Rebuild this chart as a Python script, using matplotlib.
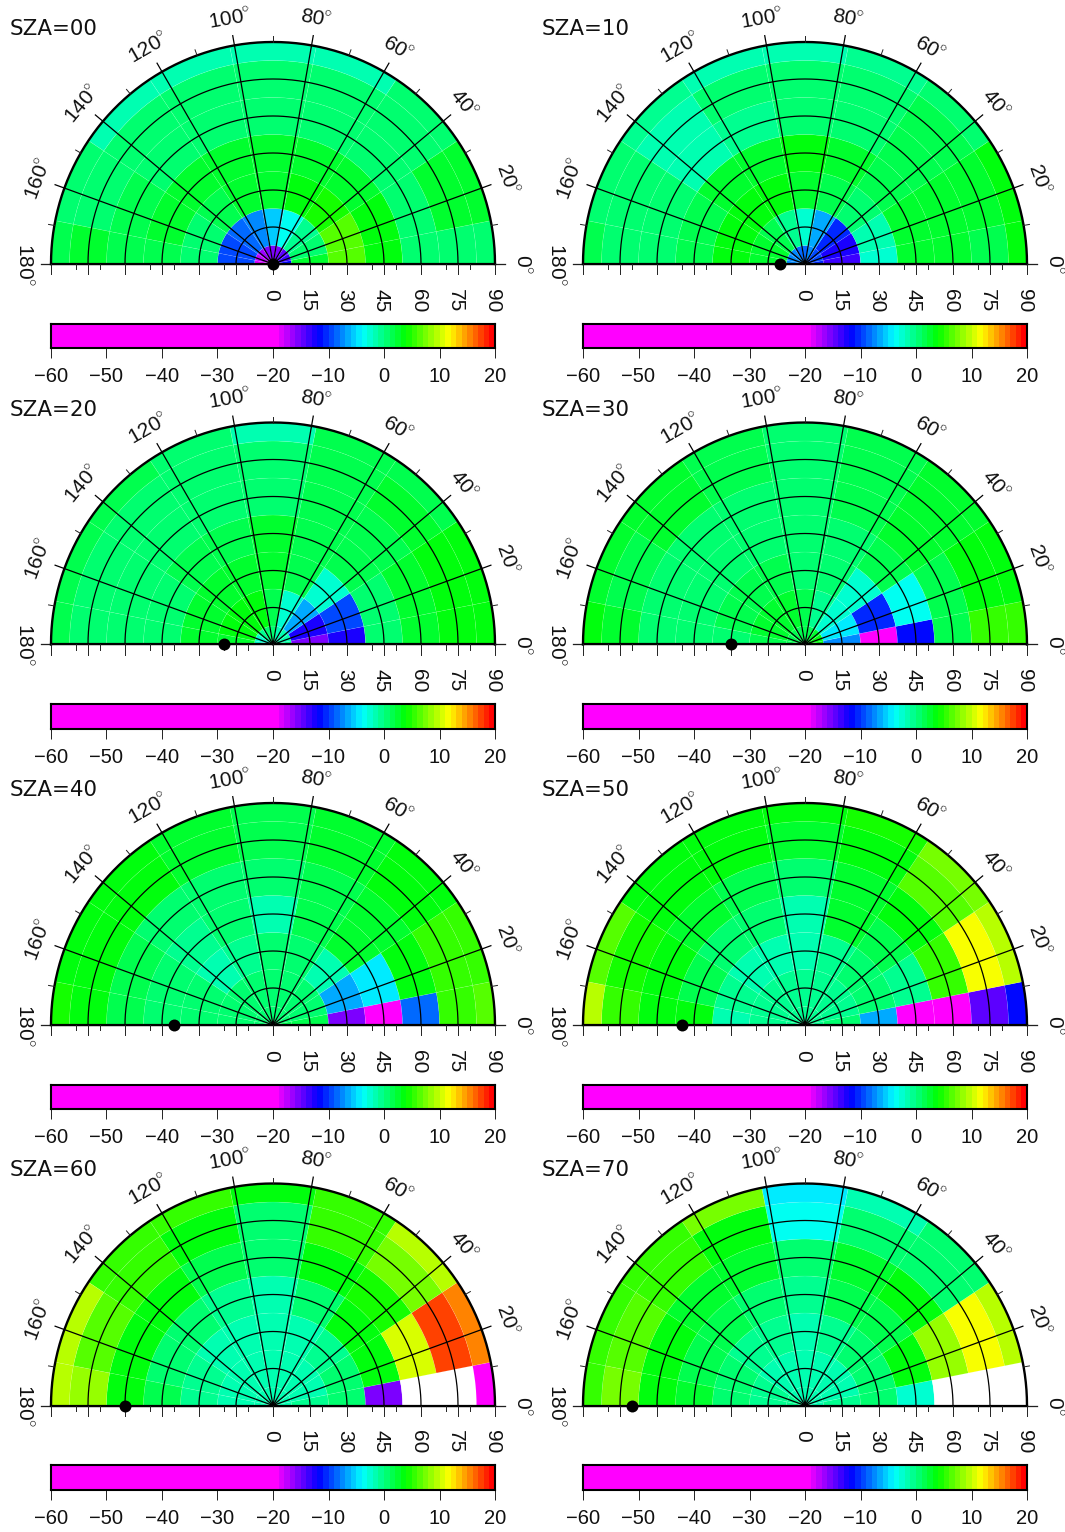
import colorsys
import numpy as np
import matplotlib
matplotlib.use('Agg')
import matplotlib.pyplot as plt
from matplotlib.collections import PatchCollection
from matplotlib.colors import ListedColormap, Normalize
from matplotlib.patches import Wedge

plt.rcParams['font.family'] = ['Liberation Sans', 'DejaVu Sans']
plt.rcParams['mathtext.fontset'] = 'custom'
plt.rcParams['mathtext.rm'] = 'Liberation Sans'

nan = float('nan')

# cell edges, degrees
ring_edges = [0, 7.5, 22.5, 37.5, 52.5, 67.5, 82.5, 90]
azim_edges = [0, 11.25, 33.75, 56.25, 78.75, 101.25, 123.75, 146.25, 168.75, 180]

# one row per ring (inner to outer), one column per azimuth bin (0 to 180)
sza00 = [[-12, -14, -15, -16, -16, -16, -17, -18, -19],
         [2, 0.5, -0.5, -3.5, -6, -8, -9, -9.5, -10],
         [6.5, 6, 4, 3, 2, 2, 1, 0.5, 0],
         [3, 3, 2.5, 2, 2, 2, 2.5, 2.5, 1.5],
         [0.5, 0.5, 0.5, 0, 0, 0, 0.5, 1, 1.5],
         [0, 2, 0, 0, 0, 0, 0, 0.5, 2.5],
         [0, 2.5, 0, -1.5, -1.5, -1.5, -2, 0.5, 1]]
sza10 = [[-11, -10, -10, -8, -9, -9, -8, -8, -8],
         [-14, -12.5, -10.5, -6.5, -3, -0.5, 1.5, 2, 2.5],
         [-3, -2, 0, 1.5, 2.5, 3, 3.5, 3, 3],
         [2.5, 2.5, 1.5, 2.5, 3, 2.5, 2, 1, 1],
         [2, 2, 1, 0, 0, -0.5, -2, 0, 0],
         [1.5, 2, 1.5, 0, 0, 0, -1.5, 0.5, 0.5],
         [3, 3, 0.5, -0.5, -1.5, -1.5, -0.5, 0.5, 1.5]]
sza20 = [[-1, -2, -2, -2, 0, 0, -1, -3, -3],
         [-15.5, -12.5, -7, -3, 1.5, 3, 3.5, 3, 2.5],
         [-13, -9.5, -3, 1, 2, 2, 2.5, 2.5, 2.5],
         [0, 0, 1.5, 1.5, 2, 1.5, 1, 0.5, 0.5],
         [2.5, 2.5, 1.5, 1, 0.5, 0, 0, 0, 0],
         [3, 3, 2, 1.5, 0.5, 0.5, 0.5, 0, 0.5],
         [3, 3, 1, 1, -1.5, 0.5, 1.5, 1, 1.5]]
sza30 = [[3, 3, 2.5, 1, 1, 1.5, 1.5, 1.5, 1.5],
         [-8, -5, -3, -0.5, 1, 2, 2.5, 2, 1.5],
         [-20, -11, -2.5, 0.5, 0.5, 1, 1.5, 1, 0.5],
         [-11.5, -3.5, 1, 0, 0, 0, 0, 0, 0],
         [1.5, 1.5, 2, 1, 0.5, 0.5, 0.5, 0.5, 0.5],
         [5.5, 3.5, 2, 1.5, 0.5, 1, 2, 1, 2],
         [5, 3.5, 2, 1.5, 0.5, 1.5, 2.5, 2.5, 3]]
sza40 = [[1.5, 0.5, 0, 0, 0, 0, 0, 0, 0],
         [1, 0, 0, 0, 0, 0, 0, 0, 0],
         [-16, -6.5, -2, 0.5, 0.5, -0.5, -2, 0, 0],
         [-20, -4.5, 2, 1, -2, 0, -0.5, 0.5, 0],
         [-8.5, 3, 2, 1, 0.5, 0.5, 0.5, 1.5, 1],
         [5, 5, 3.5, 2, 1.5, 2.5, 3, 3, 3.5],
         [6.5, 5, 3.5, 2, 1.5, 2, 3.5, 3.5, 4]]
sza50 = [[-0.5, -0.5, -0.5, -0.5, -0.5, -0.5, -0.5, -0.5, -0.5],
         [0, -0.5, -0.5, -0.5, -0.5, -0.5, -0.5, -0.5, -0.5],
         [-6.5, 0, 0, -0.5, -1.5, -1.5, -1.5, -0.5, -2],
         [-20, -0.5, 1, 2.5, -2, 0, 0.5, 1.5, 3],
         [-20, 5, 3, 2, 0, 1, 2, 3, 3],
         [-15, 11.5, 6.5, 3.5, 2.5, 3, 3, 4.5, 5.5],
         [-12, 9.5, 7, 4, 3, 3.5, 3.5, 6.5, 9.5]]
sza60 = [[-1.5, -1.5, -1.5, -1.5, -1.5, -1.5, -1.5, -1.5, -1.5],
         [-0.5, -1.5, -1.5, -1.5, -2, -1.5, -1.5, -1.5, -1.5],
         [0, 0, -0.5, -1.5, -2, -2, -2, -0.5, -0.5],
         [-15.5, 3, 3, 0, -1.5, -0.5, 0, 0, 1.5],
         [nan, 10.5, 4.5, 3, 0, 1, 3, 3.5, 3.5],
         [nan, 17, 7, 5, 0, 3.5, 5, 6.5, 8],
         [-20, 15, 9, 5.5, 3.5, 5, 5.5, 9.5, 9.5]]
sza70 = [[-1.5, -1.5, -1.5, -1.5, -2, -1.5, -1.5, -0.5, -0.5],
         [-0.5, -1.5, -1.5, -1.5, -2, -1.5, -1.5, -0.5, -0.5],
         [0, 0.5, 0, -0.5, -1.5, -0.5, -0.5, 0, 0],
         [-3, 3, 1, 1, -0.5, 0, 1, 1.5, 2.5],
         [nan, 8.5, 3.5, 2, 0, 2, 2.5, 3, 3.5],
         [nan, 11.5, 0, 0.5, -3.5, 3.5, 5, 6.5, 7.5],
         [nan, 9, 0.5, -2, -4.5, 7.5, 5.5, 5, 5]]

panels = [sza00, sza10, sza20, sza30, sza40, sza50, sza60, sza70]
sza_values = [0, 10, 20, 30, 40, 50, 60, 70]

circle_ticks = [15, 30, 45, 60, 75]
radial_major = [0, 20, 40, 60, 80, 100, 120, 140, 160, 180]
radial_minor = [10, 30, 50, 70, 90, 110, 130, 150, 170]
base_major = [0, 15, 30, 45, 60, 75, 90]
base_minor = [10, 20, 40, 50, 70, 80]
bar_ticks = [-60, -50, -40, -30, -20, -10, 0, 10, 20]

# pixel layout of the original
W, H = 1065, 1532
col_x = [273, 805]
row_y = [264, 644.5, 1025, 1405.5]
RAD = 222
PX = RAD / 90.0  # pixels per degree

# magenta below -20, then 40 rainbow steps
rainbow = [colorsys.hsv_to_rgb((300 - i * 300 / 39.0) / 360.0, 1, 1) for i in range(40)]
cmap = ListedColormap([(1, 0, 1)] * 40 + rainbow)
cmap.set_bad('white')
norm = Normalize(-60, 20)


def draw_panel(cx, cy, cells, sza):
    ax = fig.add_axes([(cx - RAD) / W, 1 - cy / H, 2 * RAD / W, RAD / H])
    ax.set_xlim(-90, 90)
    ax.set_ylim(0, 90)
    ax.axis('off')

    wedges = []
    vals = []
    for i in range(len(ring_edges) - 1):
        for j in range(len(azim_edges) - 1):
            wedges.append(Wedge((0, 0), ring_edges[i + 1], azim_edges[j], azim_edges[j + 1],
                                width=ring_edges[i + 1] - ring_edges[i]))
            vals.append(cells[i][j])
    pc = PatchCollection(wedges, cmap=cmap, norm=norm, edgecolor=(1, 1, 1, 0.2), linewidth=0.3)
    pc.set_array(np.ma.masked_invalid(vals))
    ax.add_collection(pc)

    t = np.radians(np.linspace(0, 180, 361))
    for r in circle_ticks:
        ax.plot(r * np.cos(t), r * np.sin(t), color='k', lw=0.9)
    ax.plot(90 * np.cos(t), 90 * np.sin(t), color='k', lw=1.7, clip_on=False)

    for a in radial_major:
        c, s = np.cos(np.radians(a)), np.sin(np.radians(a))
        ax.plot([0, 94 * c], [0, 94 * s], color='k', lw=0.9, clip_on=False)
        rot = -90 if a == 180 else a - 90
        ax.text(101 * c, 101 * s, '%d$\\!^\\circ$' % a, rotation=rot, rotation_mode='anchor',
                ha='center', va='center', fontsize=15, color='#111111')
    for a in radial_minor:
        c, s = np.cos(np.radians(a)), np.sin(np.radians(a))
        ax.plot([90 * c, 92.4 * c], [90 * s, 92.4 * s], color='#222222', lw=0.7, clip_on=False)

    # baseline and its ticks
    ax.plot([-94, 94], [0, 0], color='#222222', lw=0.7, clip_on=False)
    ax.plot([-90, 90], [0, 0], color='k', lw=1.6, clip_on=False)
    for r in base_major:
        for x in (-r, r):
            ax.plot([x, x], [0, -4.1], color='#222222', lw=0.7, clip_on=False)
    for r in base_minor:
        for x in (-r, r):
            ax.plot([x, x], [0, -2.1], color='#222222', lw=0.7, clip_on=False)
    for r in base_major:
        ax.text(r - 1.1, -10, str(r), rotation=270, rotation_mode='anchor', ha='left', va='center',
                fontsize=15, color='#111111')

    ax.plot([-sza], [0], 'o', color='k', ms=8.6, mew=0, clip_on=False, zorder=5)
    ax.text(-90 - 41 / PX, 235 / PX, 'SZA=%02d' % sza, ha='left', va='center',
            fontsize=15.4, family='DejaVu Sans', color='#111111')

    # colour bar
    cax = fig.add_axes([(cx - RAD) / W, 1 - (cy + 84) / H, 2 * RAD / W, 24.5 / H])
    levels = np.arange(-60, 21)
    cax.pcolormesh(levels, [0, 1], [levels[:-1] + 0.5], cmap=cmap, norm=norm)
    cax.set_yticks([])
    cax.set_xticks(bar_ticks)
    cax.set_xticklabels([str(v).replace('-', '\u2212') for v in bar_ticks], fontsize=14.5, color='#111111')
    cax.tick_params(axis='x', length=7, width=0.7, pad=7, color='#222222')
    for sp in cax.spines.values():
        sp.set_linewidth(1.5)


fig = plt.figure(figsize=(W / 100, H / 100), dpi=100)
for n in range(len(panels)):
    draw_panel(col_x[n % 2], row_y[n // 2], panels[n], sza_values[n])

fig.savefig('out.png', dpi=100)
